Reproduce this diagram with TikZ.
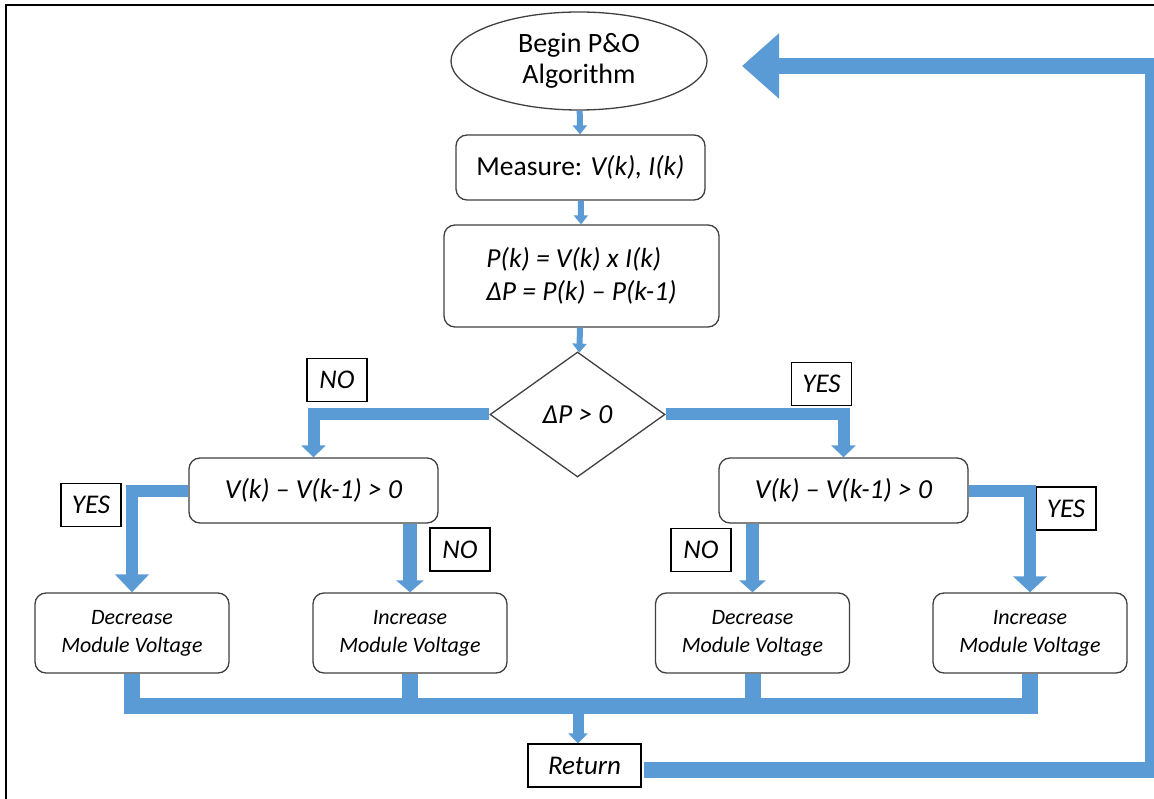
\documentclass[tikz,border=0pt]{standalone}
\usepackage{fontspec}
\setmainfont{Carlito}
\usetikzlibrary{arrows.meta, positioning, shapes.geometric}
\definecolor{flowblue}{RGB}{91,155,213}
\definecolor{boxgray}{RGB}{64,64,64}

\begin{document}
\begin{tikzpicture}[x=1pt, y=-1pt,
    proc/.style={draw=boxgray, line width=1.3pt, rounded corners=11pt, fill=white,
      inner sep=0pt, font=\fontsize{27.5}{33}\selectfont},
    action/.style={proc, minimum width=194pt, minimum height=80pt, align=center,
      font=\fontsize{22}{28}\selectfont\itshape},
    tag/.style={draw=black, line width=1.2pt, fill=white, inner sep=0pt,
      minimum width=60pt, minimum height=43pt, font=\fontsize{27}{32}\selectfont\itshape},
    thinflow/.style={draw=flowblue, line width=6pt, -{Triangle[width=14pt,length=9pt]}},
    flow/.style={draw=flowblue, line width=12pt}]
  \useasboundingbox (0,0) rectangle (1154,799);
  \clip (0,0) rectangle (1154,799);

  % frame
  \draw[line width=2pt] (6,799) -- (6,5) -- (1154,5);

  \node[ellipse, draw=boxgray, line width=1.3pt, minimum width=256pt, minimum height=98pt,
    inner sep=0pt, align=center, font=\fontsize{28}{31}\selectfont] (begin) at (579,61)
    {Begin P\&O\\Algorithm};
  \node[proc, minimum width=249pt, minimum height=65pt] (measure) at (580.5,167.5)
    {Measure: \textit{V(k), I(k)}};
  \node[proc, minimum width=275pt, minimum height=102pt, align=left] (power) at (581.5,276)
    {\itshape P(k) = V(k) x I(k)\\\itshape ΔP = P(k) -- P(k-1)};
  \node[diamond, draw=boxgray, line width=1.3pt, minimum width=175pt, minimum height=125pt,
    inner sep=0pt, aspect=1.4, font=\fontsize{27.5}{33}\selectfont\itshape] (dp) at (577.5,414.5)
    {ΔP > 0};

  \node[proc, minimum width=249pt, minimum height=65pt, font=\fontsize{27.5}{33}\selectfont\itshape]
    (vl) at (313.5,490.5) {V(k) -- V(k-1) > 0};
  \node[proc, minimum width=249pt, minimum height=65pt, font=\fontsize{27.5}{33}\selectfont\itshape]
    (vr) at (843.5,490.5) {V(k) -- V(k-1) > 0};

  \node[action] (decl) at (132,633) {Decrease\\Module Voltage};
  \node[action] (incl) at (410,633) {Increase\\Module Voltage};
  \node[action] (decr) at (752.5,633) {Decrease\\Module Voltage};
  \node[action] (incr) at (1030,633) {Increase\\Module Voltage};

  \node[tag, minimum width=113pt] (ret) at (584.5,765.5) {Return};

  \node[tag] (noA) at (337,380) {NO};
  \node[tag] (yesA) at (821.5,384) {YES};
  \node[tag] (yesB) at (91,505) {YES};
  \node[tag] (noB) at (460,549.5) {NO};
  \node[tag] (noC) at (701,550) {NO};
  \node[tag] (yesC) at (1066,508.5) {YES};

  \coordinate (join) at (578,706);
  \coordinate (cornerB) at (1152.5,770);
  \coordinate (cornerT) at (1152.5,66);
  \coordinate (back) at (742,66);

  % main line
  \draw[thinflow] (begin) -- (measure);
  \draw[thinflow] (measure) -- (power);
  \draw[thinflow] (power) -- (dp);

  % branches
  \draw[flow, -{Triangle[width=24pt,length=12pt]}] (dp.west) -| (vl.north);
  \draw[flow, -{Triangle[width=24pt,length=12pt]}] (dp.east) -| (vr.north);
  \draw[flow, -{Triangle[width=33pt,length=18pt]}] (vl.west) -| (decl.north);
  \draw[flow, line width=14pt, -{Triangle[width=27pt,length=12pt]}] (vl.south -| incl.north) -- (incl.north);
  \draw[flow, line width=13pt, -{Triangle[width=26pt,length=12pt]}] (vr.south -| decr.north) -- (decr.north);
  \draw[flow, -{Triangle[width=33pt,length=16pt]}] (vr.east) -| (incr.north);

  % collect and return
  \draw[flow, line width=16pt] (decl.south) -- (decl.south |- join) -- (incr.south |- join) -- (incr.south);
  \draw[flow, line width=16pt] (incl.south) -- (incl.south |- join);
  \draw[flow, line width=16pt] (decr.south) -- (decr.south |- join);
  \draw[draw=flowblue, line width=11pt, -{Triangle[width=19pt,length=10pt]}] (join) -- (join |- ret.north);
  \draw[flow, line width=16pt, shorten <=2pt, -{Triangle[width=63pt,length=37pt]}]
    (ret.east |- cornerB) -- (cornerB) -- (cornerT) -- (back);
\end{tikzpicture}
\end{document}
